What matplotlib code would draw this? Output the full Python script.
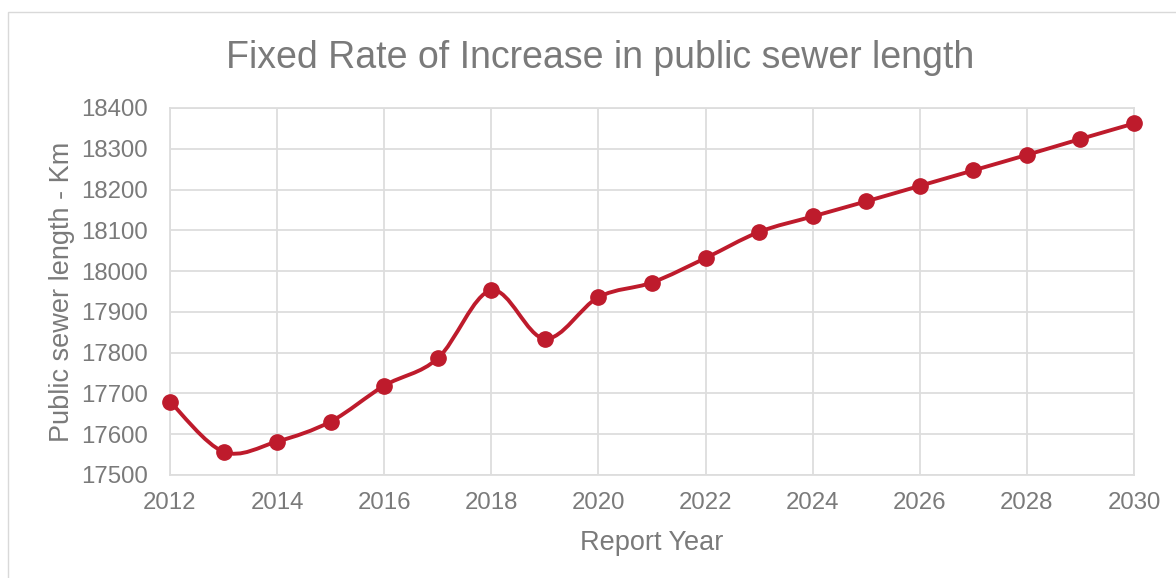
import numpy as np
import matplotlib.pyplot as plt
from matplotlib.path import Path
from matplotlib.patches import PathPatch, Rectangle

plt.rcParams['font.family'] = ['Liberation Sans', 'DejaVu Sans']

# data
years = [2012, 2013, 2014, 2015, 2016, 2017, 2018, 2019, 2020, 2021,
         2022, 2023, 2024, 2025, 2026, 2027, 2028, 2029, 2030]
length_km = [17680, 17557, 17582, 17631, 17719, 17786, 17953, 17834, 17936, 17972,
             18032, 18096, 18134, 18171, 18209, 18247, 18285, 18324, 18362]

RED = '#BE1B2C'
GREY = '#7A7A7A'
GRID = '#DDDDDD'


def smooth_path(xs, ys):
    # Excel-style smoothed line: cubic bezier segments, catmull-rom control points
    xs = np.asarray(xs, float)
    ys = np.asarray(ys, float)
    n = len(xs)
    verts = [(xs[0], ys[0])]
    codes = [Path.MOVETO]
    for i in range(n - 1):
        p0 = i - 1 if i > 0 else 0
        p3 = i + 2 if i + 2 < n else n - 1
        c1 = (xs[i] + (xs[i + 1] - xs[p0]) / 6, ys[i] + (ys[i + 1] - ys[p0]) / 6)
        c2 = (xs[i + 1] - (xs[p3] - xs[i]) / 6, ys[i + 1] - (ys[p3] - ys[i]) / 6)
        verts += [c1, c2, (xs[i + 1], ys[i + 1])]
        codes += [Path.CURVE4] * 3
    return Path(verts, codes)


fig = plt.figure(figsize=(11.76, 5.78), dpi=100)
ax = fig.add_axes([170 / 1176, 1 - 475 / 578, (1134 - 170) / 1176, (475 - 108) / 578])

# chart frame
fig.patches.append(Rectangle((8 / 1176, -0.01), 1.2, 1 - 12 / 578 + 0.01,
                             transform=fig.transFigure, fill=False,
                             edgecolor='#D9D9D9', linewidth=1))

ax.add_patch(PathPatch(smooth_path(years, length_km), facecolor='none',
                       edgecolor=RED, linewidth=2.8, zorder=3, clip_on=False))
ax.plot(years, length_km, linestyle='none', marker='o', markersize=11,
        color=RED, zorder=4, clip_on=False)

ax.set_xlim(2012, 2030)
ax.set_ylim(17500, 18400)
ax.set_xticks(range(2012, 2031, 2))
ax.set_yticks(range(17500, 18401, 100))
ax.grid(True, color=GRID, linewidth=1.3)
ax.set_axisbelow(True)
for s in ax.spines.values():
    s.set_color(GRID)
    s.set_linewidth(1.3)
ax.tick_params(length=0, labelsize=17.3, labelcolor=GREY)
ax.tick_params(axis='y', pad=16)
ax.tick_params(axis='x', pad=12)

ax.set_xlabel('Report Year', fontsize=19.5, color=GREY, labelpad=12)
ax.set_ylabel('Public sewer length - Km', fontsize=19.5, color=GREY, labelpad=4)
fig.text(600 / 1176, 1 - 58 / 578, 'Fixed Rate of Increase in public sewer length',
         ha='center', va='center', fontsize=27, color=GREY)

fig.savefig('out.png', dpi=100)
